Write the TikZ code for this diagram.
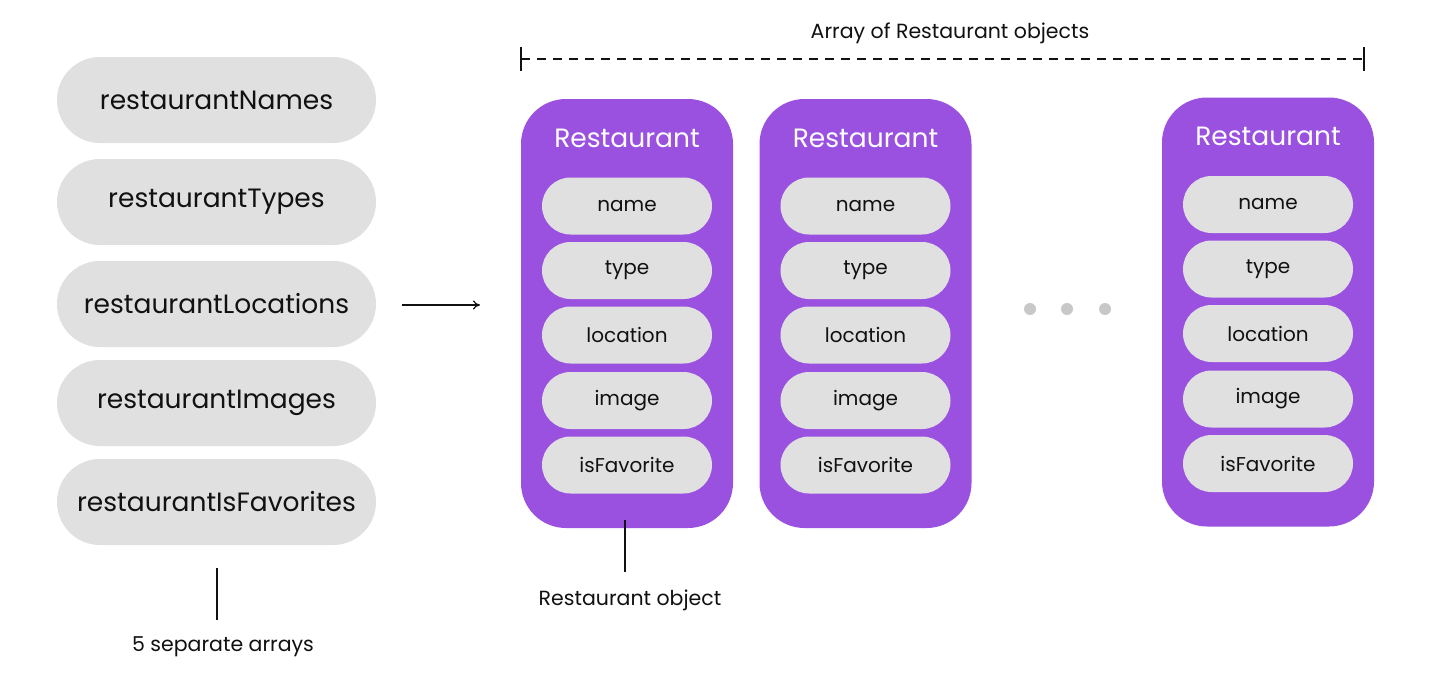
\documentclass[tikz,border=0pt]{standalone}
\usepackage{fontspec}
\setmainfont{Poppins}
\usetikzlibrary{arrows.meta}
\definecolor{purp}{HTML}{9B51E0}
\definecolor{pillgray}{HTML}{E0E0E0}
\definecolor{dotgray}{HTML}{C8C8C8}
\definecolor{ink}{HTML}{111111}
\begin{document}
\begin{tikzpicture}[x=1pt,y=-1pt,
  bigpill/.style={fill=pillgray,draw=none,rounded corners=43pt,minimum width=319pt,minimum height=86pt,inner sep=0pt,text=ink,font=\fontsize{26.5}{30}\selectfont},
  smallpill/.style={fill=pillgray,draw=none,rounded corners=28.5pt,minimum width=170pt,minimum height=57pt,inner sep=0pt,text=ink,font=\fontsize{20}{22}\selectfont},
  objbox/.style={fill=purp,draw=none,rounded corners=45pt,minimum width=212pt,minimum height=429pt,inner sep=0pt},
  objtitle/.style={text=white,font=\fontsize{26.5}{30}\selectfont,inner sep=0pt},
  caption/.style={text=ink,font=\fontsize{20.5}{23}\selectfont,inner sep=0pt},
  dot/.style={circle,fill=dotgray,draw=none,minimum size=12pt,inner sep=0pt},
  thin/.style={draw=ink,line width=1.2pt}
]
\useasboundingbox (0,0) rectangle (1446,680);
\fill[white] (0,0) rectangle (1446,680);

% left arrays
\node[bigpill] (p1) at (216.5,100) {restaurantNames};
\node[bigpill] (p2) at (216.5,202) {restaurantTypes};
\node[bigpill] (p3) at (216.5,304) {restaurantLocations};
\node[bigpill] (p4) at (216.5,403) {restaurantImages};
\node[bigpill] (p5) at (216.5,502) {restaurantIsFavorites};
\node[caption] (sep) at (223,647) {5 separate arrays};
\coordinate (sepTop) at (217,568);
\coordinate (sepBot) at (217,620);
\draw[thin] (sepTop) -- (sepBot);

% arrow
\coordinate (arrS) at (402,305);
\coordinate (arrE) at (480,305);
\draw[thin,-{To[length=7pt,width=9pt]}] (arrS) -- (arrE);

% objects
\foreach \n/\x/\y in {1/627/313.5, 2/865.5/313.5, 3/1268/312}{
  \node[objbox] (b\n) at (\x,\y) {};
  \node[objtitle] (t\n) at (\x,\y-175.5) {Restaurant};
  \node[smallpill] (n\n) at (\x,\y-107.5) {name};
  \node[smallpill] (ty\n) at (\x,\y-43) {type};
  \node[smallpill] (l\n) at (\x,\y+21.5) {location};
  \node[smallpill] (i\n) at (\x,\y+87) {image};
  \node[smallpill] (f\n) at (\x,\y+151.5) {isFavorite};
}

% dots
\node[dot] (d1) at (1030,309) {};
\node[dot] (d2) at (1067,309) {};
\node[dot] (d3) at (1105,309) {};

% array bracket
\node[caption] (arrTitle) at (950,33) {Array of Restaurant objects};
\coordinate (brL) at (521,59);
\coordinate (brR) at (1364,59);
\draw[thin,dash pattern=on 9pt off 7pt] (brL) -- (brR);
\draw[thin] (521,47) -- (521,71);
\draw[thin] (1364,47) -- (1364,71);

% restaurant object label
\node[caption] (objLbl) at (630,600) {Restaurant object};
\coordinate (objTop) at (625,520);
\coordinate (objBot) at (625,572);
\draw[thin] (objTop) -- (objBot);
\end{tikzpicture}
\end{document}
